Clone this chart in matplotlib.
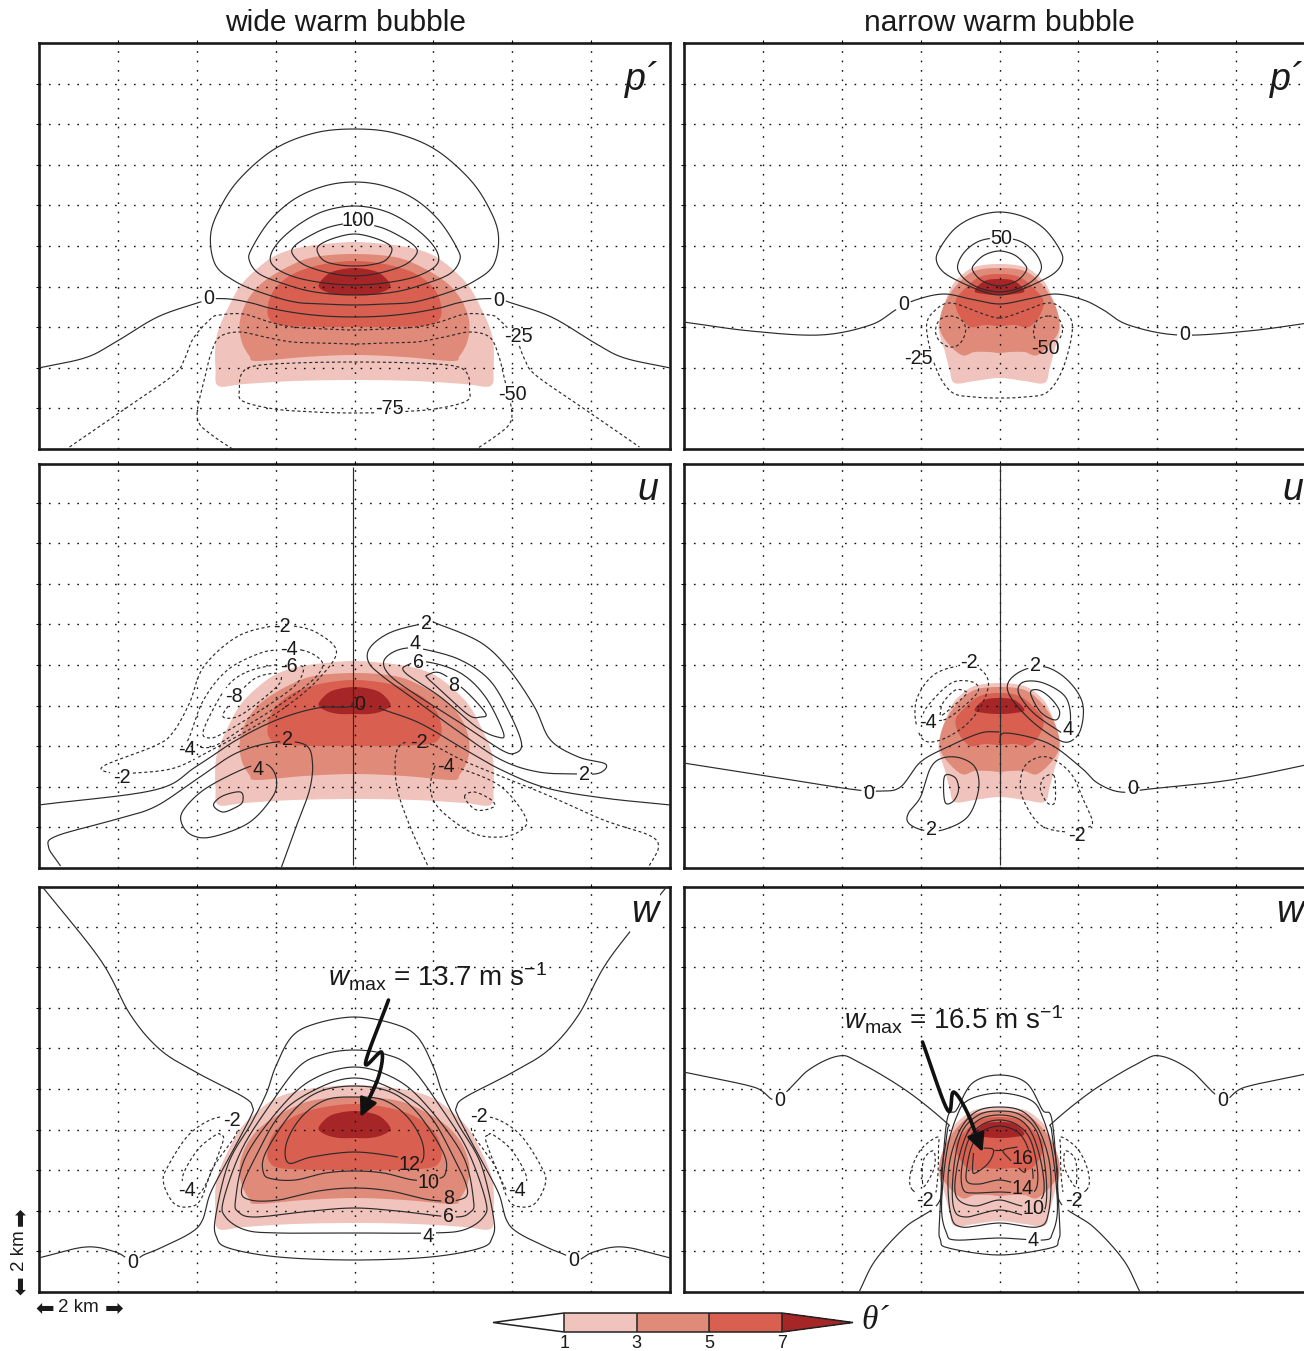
import numpy as np
import matplotlib
matplotlib.use("Agg")
import matplotlib.pyplot as plt
from matplotlib.colors import ListedColormap, BoundaryNorm
from matplotlib.cm import ScalarMappable

plt.rcParams["font.family"] = ["Liberation Sans", "DejaVu Sans"]
plt.rcParams["mathtext.fontset"] = "custom"
plt.rcParams["mathtext.rm"] = "Liberation Sans"
plt.rcParams["mathtext.it"] = "Liberation Sans:italic"
plt.rcParams["mathtext.default"] = "regular"

# Readings are (distance from bubble axis, height above ground) in picture units;
# KM_X / KM_Z convert them to kilometres.
KM_X, KM_Z = 39.44, 40.6
THETA_LEVELS = [1, 3, 5, 7]
THETA_COLORS = ["#F0C3BC", "#E08A7A", "#D95F50", "#A62628"]
COLUMN_TITLES = ["wide warm bubble", "narrow warm bubble"]
ROW_NAMES = ["p´", "u", "w"]

# theta' half outlines (top of axis round to bottom of axis)
WIDE_T1 = [(0,207),(30,205),(57,201),(80,193),(100,178),(115,162),(126,142),(135,122),(139,105),(139,80),(136,63),(110,65),(60,68),(0,69)]
WIDE_T3 = [(0,195),(40,192),(65,183),(90,168),(105,152),(113,135),(115,120),(112,105),(105,93),(98,88),(50,92),(0,94)]
WIDE_T5 = [(0,188),(30,185),(55,178),(72,168),(83,155),(87,140),(85,130),(75,124),(40,122),(0,122)]
WIDE_T7 = [(0,181),(20,178),(30,172),(36,163),(28,157),(15,154),(0,154)]
NARROW_T1 = [(0,185),(25,182),(40,172),(48,162),(57,140),(61,122),(58,108),(55,99),(50,80),(45,66),(25,68),(0,71)]
NARROW_T3 = [(0,181),(25,178),(42,165),(55,145),(60,125),(55,110),(38,94),(25,97),(10,97),(0,96)]
NARROW_T5 = [(0,175),(20,172),(35,160),(44,148),(40,133),(29,122),(15,124),(0,123)]
NARROW_T7 = [(0,170),(15,168),(25,158),(15,155),(0,154)]

# pressure, wide
PW_25 = [(0,320),(40,316),(80,300),(115,270),(135,240),(144,213),(139,184),(120,168),(95,157),(60,147),(30,145),(0,144)]
PW_50 = [(0,267),(30,263),(60,250),(85,228),(103,200),(105,188),(95,175),(70,165),(40,157),(0,154)]
PW_75 = [(0,243),(30,238),(55,225),(75,208),(84,193),(80,182),(60,172),(30,166),(0,164)]
PW_100 = [(0,226),(25,222),(45,213),(60,203),(62,195),(50,184),(25,176),(0,173)]
PW_125 = [(0,215),(20,211),(35,204),(37,197),(30,188),(15,184),(0,183)]
PW_0 = [(0,132),(30,133),(58,136),(85,141),(103,146),(125,150),(146,150),(154,147),(197,132),(242,105),(270,91),(316,81)]
PW_M25 = [(0,119),(30,120),(62,122),(85,127),(111,135),(135,134),(144,130),(161,111),(170,90),(181,74),(227,42),(285,2)]
PW_M50 = [(0,105),(30,106),(62,107),(90,112),(115,117),(135,112),(144,94),(150,70),(157,40),(155,25),(140,12),(122,0)]
PW_M75 = [(0,87),(60,86),(100,83),(113,75),(115,60),(112,48),(80,40),(40,37),(0,36)]
PW_LABELS = [("100",4,228),("0",-146,150),("0",144,149),("-25",164,112),("-50",158,55),("-75",35,40)]

# pressure, narrow
PN_25 = [(0,237),(25,232),(45,220),(60,200),(63,188),(55,176),(35,165),(15,157),(0,154)]
PN_50 = [(0,211),(20,208),(35,197),(42,182),(35,170),(20,161),(0,157)]
PN_75 = [(0,198),(15,194),(25,185),(27,179),(20,170),(10,165),(0,163)]
PN_0 = [(0,145),(29,150),(56,155),(84,149),(104,139),(129,124),(179,114),(249,118),(316,127)]
PN_M25 = [(0,131),(19,136),(48,146),(64,139),(73,122),(64,82),(48,57),(25,52),(0,51)]
PN_M50_L = [(-49,133),(-37,128),(-34,117),(-40,105),(-50,102),(-60,108),(-64,118),(-60,129)]
PN_M50_R = [(49,133),(60,129),(63,118),(58,108),(47,103),(37,108),(34,118),(38,129)]
PN_LABELS = [("50",2,211),("0",-96,145),("0",185,114),("-25",-81,91),("-50",46,101)]

# u, wide
UW_0_L = [(-316,63),(-200,78),(-159,101),(-118,128),(-78,148),(-37,160),(-6,161),(-2,166)]
UW_0_R = [(24,160),(65,145),(106,121),(147,98),(192,80),(249,70),(316,63)]
UW_AXIS = [(-2,3),(-2,401)]
UW_P2_LOW = [(-294,2),(-306,21),(-298,32),(-241,48),(-200,61),(-159,88),(-118,115),(-78,126),(-49,123),(-42,105),(-45,78),(-57,45),(-73,1)]
UW_P4_LOW = [(-84,101),(-78,88),(-82,71),(-106,45),(-143,31),(-163,33),(-173,45),(-171,58),(-151,78),(-118,96),(-95,104)]
UW_P6_LOW = [(-141,63),(-132,72),(-114,76),(-112,66),(-120,60),(-132,56)]
UW_M2_LOW = [(73,3),(57,38),(43,78),(41,111),(49,125),(73,125),(114,105),(188,75),(249,48),(294,33),(304,21),(294,1)]
UW_M4_LOW = [(80,101),(76,78),(86,58),(118,35),(147,31),(167,38),(171,51),(147,81),(110,98),(86,103)]
UW_M6_LOW = [(110,71),(120,76),(137,68),(139,61),(122,58)]
UW_P2_UP = [(86,243),(127,225),(155,198),(180,161),(196,128),(224,111),(251,104),(245,95),(224,94),(184,96),(147,108),(106,135),(65,165),(29,191),(14,206),(16,221),(37,236),(73,245)]
UW_P4_UP = [(73,218),(106,208),(135,188),(155,155),(167,125),(161,115),(147,118),(106,145),(65,171),(37,191),(29,205),(37,215),(53,220)]
UW_P6_UP = [(73,206),(106,195),(131,171),(149,135),(143,131),(122,141),(86,171),(51,195),(53,203)]
UW_P8_UP = [(73,193),(86,195),(110,178),(131,155),(126,151),(114,153),(86,178),(73,190)]
UW_M2_UP = [(-82,242),(-118,231),(-151,201),(-165,165),(-182,135),(-200,122),(-251,102),(-243,95),(-220,95),(-180,100),(-143,118),(-106,138),(-69,161),(-37,188),(-18,216),(-37,235),(-61,242)]
UW_M4_UP = [(-53,218),(-37,211),(-32,201),(-45,185),(-78,161),(-110,141),(-143,121),(-167,125),(-165,131),(-151,168),(-127,198),(-94,215),(-73,218)]
UW_M6_UP = [(-110,195),(-130,178),(-151,138),(-145,130),(-131,135),(-98,155),(-61,181),(-51,198),(-57,203),(-80,203)]
UW_M8_UP = [(-76,195),(-102,188),(-131,155),(-122,150),(-106,158),(-78,181),(-73,191)]
UW_LABELS = [("-2",-73,241),("-4",-66,218),("-6",-66,201),("-8",-121,171),("-4",-168,118),("-2",-233,90),
             ("2",-67,128),("4",-96,98),("0",5,163),("2",72,244),("4",61,224),("6",64,205),("8",99,182),
             ("-2",64,125),("-4",92,101),("2",230,93)]

# u, narrow
UN_0_L = [(-316,105),(-239,93),(-150,79),(-119,77),(-99,81),(-79,106),(-52,121),(-19,135),(0,136)]
UN_0_R = [(0,125),(6,135),(48,125),(81,101),(98,85),(121,76),(150,79),(231,88),(316,105)]
UN_AXIS = [(0,3),(0,404)]
UN_P2_UP = [(46,201),(68,188),(83,165),(81,138),(69,126),(54,131),(31,148),(11,171),(9,186),(24,198)]
UN_P4_UP = [(71,148),(66,171),(44,185),(24,186),(19,175),(34,155),(58,138),(64,136)]
UN_P6_UP = [(31,175),(39,178),(51,170),(60,157),(56,148),(41,156)]
UN_M2_UP = [(-21,200),(-11,185),(-19,161),(-36,141),(-59,128),(-76,128),(-84,148),(-82,171),(-66,193),(-41,202)]
UN_M4_UP = [(-56,148),(-32,165),(-21,178),(-27,186),(-46,186),(-64,171),(-76,153)]
UN_M6_UP = [(-57,153),(-36,171),(-33,176),(-44,178),(-56,166),(-59,156)]
UN_P2_LOW = [(-57,38),(-32,51),(-21,78),(-24,100),(-39,110),(-57,110),(-69,100),(-79,71),(-91,55),(-91,45),(-77,38)]
UN_P4_LOW = [(-54,93),(-44,90),(-41,78),(-46,67),(-54,65),(-56,81)]
UN_M2_LOW = [(68,36),(41,43),(24,68),(21,88),(28,105),(48,111),(71,95),(84,68),(93,46),(86,40)]
UN_M4_LOW = [(54,93),(56,80),(55,65),(48,65),(41,78),(44,90)]
UN_LABELS = [("-2",-31,205),("2",36,202),("-4",-72,145),("4",69,138),("0",-131,74),("0",133,79),("2",-68,38),("-2",77,32)]

# w, wide
WW_0 = [(316,34),(269,45),(239,40),(222,31),(211,37),(194,44),(164,59),(152,72),(144,99),(125,135),(104,175),(102,185),(111,195),(157,219),(194,242),(224,277),(254,332),(312,405)]
WW_2 = [(0,275),(40,268),(63,255),(79,225),(88,199),(103,169),(126,129),(139,75),(138,55),(126,44),(76,35),(0,32)]
WW_4 = [(0,242),(30,238),(56,225),(86,185),(113,142),(131,92),(129,75),(109,62),(76,59),(0,59)]
WW_6 = [(0,225),(43,212),(76,182),(109,135),(119,92),(116,80),(99,75),(43,81),(0,84)]
WW_8 = [(0,214),(36,204),(73,179),(99,135),(113,102),(104,92),(76,92),(36,101),(0,104)]
WW_10 = [(0,206),(36,200),(63,179),(89,139),(91,119),(82,113),(59,112),(29,119),(0,121)]
WW_12 = [(0,195),(29,192),(53,175),(68,149),(66,129),(43,135),(0,140)]
WW_M2_L = [(-134,175),(-164,159),(-187,125),(-191,109),(-181,89),(-167,85),(-154,92),(-141,125),(-117,162)]
WW_M4_L = [(-134,157),(-139,157),(-157,142),(-172,115),(-165,100),(-152,102),(-132,149)]
WW_LABELS = [("-2",-123,172),("-2",124,176),("-4",-168,102),("-4",163,102),("12",55,127),("10",74,110),
             ("8",94,94),("6",94,75),("4",74,55),("0",-222,30),("0",219,31)]
WW_ARROW = [(34,292),(11,229),(27,240),(24,215),(6,175)]

# w, narrow
WN_0 = [(316,220),(246,205),(223,193),(191,222),(161,236),(141,230),(94,202),(54,170),(52,162),(58,122),(61,89),(94,65),(124,32),(140,1)]
WN_2 = [(0,217),(27,209),(43,182),(53,169),(60,72),(59,52),(51,44),(0,37)]
WN_4 = [(0,199),(31,192),(43,175),(53,139),(58,85),(53,59),(44,52),(0,54)]
WN_6 = [(0,185),(24,180),(41,159),(51,122),(49,79),(38,65),(0,69)]
WN_8 = [(0,181),(21,177),(38,159),(46,122),(46,85),(34,75),(0,82)]
WN_10 = [(0,177),(21,172),(34,155),(43,122),(43,95),(25,86),(0,92)]
WN_12 = [(0,172),(18,167),(31,152),(38,122),(36,102),(24,99),(0,100)]
WN_14 = [(0,166),(18,160),(28,145),(33,122),(32,110),(20,108),(0,112)]
WN_16 = [(-26,139),(-27,122),(-24,119),(-11,129),(-6,142),(-16,144)]
WN_16B = [(-6,142),(4,142)]
WN_16C = [(18,145),(4,142),(8,135),(24,120),(26,125)]
WN_M2_L = [(-87,102),(-89,119),(-79,142),(-62,155),(-61,145),(-62,112),(-67,95)]
WN_M4_L = [(-77,109),(-76,132),(-66,141),(-65,125),(-74,107)]
WN_LABELS = [("-2",-75,91),("-2",74,91),("16",23,133),("14",23,104),("10",34,84),("4",34,52),("0",-220,191),("0",223,192)]
WN_ARROW = [(-77,250),(-52,182),(-46,200),(-32,179),(-17,140)]

WMAX_TEXT = ["$\\mathit{w}_{max}$ = 13.7 m s$^{−1}$", "$\\mathit{w}_{max}$ = 16.5 m s$^{−1}$"]
WMAX_POS = [(-27, 315), (-156, 272)]


def spline(points, closed=False, n=14):
    p = np.asarray(points, float)
    if len(p) < 3:
        return p
    if closed:
        q = np.vstack([p[-1], p, p[0], p[1]])
    else:
        q = np.vstack([2 * p[0] - p[1], p, 2 * p[-1] - p[-2]])
    t = np.linspace(0, 1, n, endpoint=False)[:, None]
    out = []
    for i in range(1, len(q) - 2):
        a, b, c, d = q[i - 1], q[i], q[i + 1], q[i + 2]
        out.append(0.5 * (2 * b + (c - a) * t + (2 * a - 5 * b + 4 * c - d) * t ** 2 + (3 * b - a - 3 * c + d) * t ** 3))
    out = np.vstack(out)
    return np.vstack([out, out[:1]]) if closed else np.vstack([out, q[-2]])


def loop(half):
    """Closed outline from a half outline read on the right of the axis."""
    h = np.asarray(half, float)
    return np.vstack([h, (h[-2:0:-1] * [-1, 1])])


def through(half):
    """Open curve crossing the axis, from the half read to its right."""
    h = np.asarray(half, float)
    return np.vstack([h[:0:-1] * [-1, 1], h])


def flip(curve):
    return np.asarray(curve, float) * [-1, 1]


def draw_line(ax, pts, closed, dashed, labels, cut=True):
    c = spline(pts, closed)
    d = np.hypot(*np.diff(c, axis=0).T)
    s = np.r_[0, np.cumsum(d)]
    si = np.arange(0, s[-1] + 0.5, 0.5)
    x, z = np.interp(si, s, c[:, 0]), np.interp(si, s, c[:, 1])
    if cut:
        for txt, lx, lz in labels:
            hw = 4.1 * len(txt) + 3
            mask = (np.abs(x - lx) < hw) & (np.abs(z - lz) < 9)
            x = np.where(mask, np.nan, x)
    ax.plot(x / KM_X, z / KM_Z, color="#2b2b2b", lw=0.85, zorder=4,
            ls=(0, (2.6, 2.2)) if dashed else "-", solid_capstyle="butt", dash_capstyle="butt")


def panel_lines(ax, items, labels):
    for pts, closed, dashed in items:
        draw_line(ax, pts, closed, dashed, labels)
    for txt, lx, lz in labels:
        ax.text(lx / KM_X, lz / KM_Z, txt, ha="center", va="center", fontsize=14.2, color="#1a1a1a", zorder=6)


W, H = 1304, 1351
fig = plt.figure(figsize=(W / 100, H / 100), dpi=100)
COL_LEFT = [39, 684]
ROW_BOX = [(43, 449), (464, 868), (887, 1292)]
LETTER_Y = [80, 490, 912]
PANEL_W = 631
axes = {}
for r, (top, bottom) in enumerate(ROW_BOX):
    for c, left in enumerate(COL_LEFT):
        ax = fig.add_axes([left / W, 1 - bottom / H, PANEL_W / W, (bottom - top) / H])
        ax.set_xlim(-8, 8)
        ax.set_ylim(0, (bottom - top) / KM_Z)
        ax.set_xticks(np.arange(-6, 7, 2))
        ax.set_yticks(np.arange(1, 10))
        ax.tick_params(left=True, top=True, bottom=False, labelleft=False, labelbottom=False,
                       length=2.5, width=0.8, direction="out")
        ax.grid(True, color="#111111", lw=1.0, ls=(0, (1.2, 5.6)), zorder=3)
        ax.set_axisbelow(False)
        for sp in ax.spines.values():
            sp.set_linewidth(1.9)
            sp.set_color("#1a1a1a")
        outlines = [WIDE_T1, WIDE_T3, WIDE_T5, WIDE_T7] if c == 0 else [NARROW_T1, NARROW_T3, NARROW_T5, NARROW_T7]
        for outline, colour in zip(outlines, THETA_COLORS):
            o = spline(loop(outline), True, 8)
            ax.fill(o[:, 0] / KM_X, o[:, 1] / KM_Z, color=colour, lw=0, zorder=1)
        box = dict(fc="white", ec="none", pad=1) if r == 2 else None
        ax.text(304 / KM_X, (bottom - LETTER_Y[r]) / KM_Z, ROW_NAMES[r],
                ha="right", va="center", fontsize=27, style="italic", color="#1a1a1a", zorder=6, bbox=box)
        axes[(r, c)] = ax

panel_lines(axes[(0, 0)], [(loop(PW_25), True, False), (loop(PW_50), True, False), (loop(PW_75), True, False),
                           (loop(PW_100), True, False), (loop(PW_125), True, False), (through(PW_0), False, False),
                           (through(PW_M25), False, True), (through(PW_M50), False, True), (loop(PW_M75), True, True)], PW_LABELS)
panel_lines(axes[(0, 1)], [(loop(PN_25), True, False), (loop(PN_50), True, False), (loop(PN_75), True, False),
                           (through(PN_0), False, False), (loop(PN_M25), True, True),
                           (PN_M50_L, True, True), (PN_M50_R, True, True)], PN_LABELS)
panel_lines(axes[(1, 0)], [(UW_0_L, False, False), (UW_0_R, False, False), (UW_P2_LOW, False, False),
                           (UW_P4_LOW, True, False), (UW_P6_LOW, True, False), (UW_M2_LOW, False, True),
                           (UW_M4_LOW, True, True), (UW_M6_LOW, True, True), (UW_P2_UP, True, False),
                           (UW_P4_UP, True, False), (UW_P6_UP, True, False), (UW_P8_UP, True, False),
                           (UW_M2_UP, True, True), (UW_M4_UP, True, True), (UW_M6_UP, True, True), (UW_M8_UP, True, True)], UW_LABELS)
draw_line(axes[(1, 0)], UW_AXIS, False, False, [], cut=False)
panel_lines(axes[(1, 1)], [(UN_0_L, False, False), (UN_0_R, False, False), (UN_P2_UP, True, False), (UN_P4_UP, True, False),
                           (UN_P6_UP, True, False), (UN_M2_UP, True, True), (UN_M4_UP, True, True), (UN_M6_UP, True, True),
                           (UN_P2_LOW, True, False), (UN_P4_LOW, True, False), (UN_M2_LOW, True, True), (UN_M4_LOW, True, True)], UN_LABELS)
draw_line(axes[(1, 1)], UN_AXIS, False, False, [], cut=False)
panel_lines(axes[(2, 0)], [(WW_0, False, False), (flip(WW_0), False, False)]
            + [(loop(h), True, False) for h in (WW_2, WW_4, WW_6, WW_8, WW_10, WW_12)]
            + [(WW_M2_L, True, True), (flip(WW_M2_L), True, True), (WW_M4_L, True, True), (flip(WW_M4_L), True, True)], WW_LABELS)
panel_lines(axes[(2, 1)], [(WN_0, False, False), (flip(WN_0), False, False)]
            + [(loop(h), True, False) for h in (WN_2, WN_4, WN_6, WN_8, WN_10, WN_12, WN_14)]
            + [(WN_16, False, False), (WN_16B, False, False), (WN_16C, False, False),
               (WN_M2_L, True, True), (flip(WN_M2_L), True, True), (WN_M4_L, True, True), (flip(WN_M4_L), True, True)], WN_LABELS)

for c, arrow in enumerate([WW_ARROW, WN_ARROW]):
    ax = axes[(2, c)]
    a = spline(arrow, False, 10)
    ax.plot(a[:-4, 0] / KM_X, a[:-4, 1] / KM_Z, color="#111111", lw=2.6, zorder=7, solid_capstyle="round")
    ax.annotate("", xy=(a[-1, 0] / KM_X, a[-1, 1] / KM_Z), xytext=(a[-10, 0] / KM_X, a[-10, 1] / KM_Z), zorder=7,
                arrowprops=dict(arrowstyle="-|>,head_length=0.55,head_width=0.27", color="#111111", lw=2.2,
                                shrinkA=0, shrinkB=0, mutation_scale=20))
    ax.text(WMAX_POS[c][0] / KM_X, WMAX_POS[c][1] / KM_Z, WMAX_TEXT[c], ha="left", va="center",
            fontsize=20, color="#1a1a1a", zorder=7)

for text, x in zip(COLUMN_TITLES, [346, 999]):
    fig.text(x / W, 1 - 23 / H, text, ha="center", va="center", fontsize=21.5, color="#1a1a1a")

# distance scale
fig.text(78 / W, 1 - 1308 / H, "2 km", ha="center", va="center", fontsize=13.5, color="#1a1a1a")
fig.text(20 / W, 1 - 1251 / H, "2 km", ha="center", va="center", fontsize=13.5, rotation=90, color="#1a1a1a")
for x, s in [(45, "⬅"), (114, "➡")]:
    fig.text(x / W, 1 - 1309 / H, s, ha="center", va="center", fontsize=16, family="DejaVu Sans", color="#1a1a1a")
for y, s in [(1217, "➡"), (1286, "⬅")]:
    fig.text(21 / W, 1 - y / H, s, ha="center", va="center", fontsize=16, family="DejaVu Sans", rotation=90, color="#1a1a1a")

# theta' key
cax = fig.add_axes([493 / W, 1 - 1332 / H, 360 / W, 19 / H])
cmap = ListedColormap(THETA_COLORS[:3]).with_extremes(under="white", over=THETA_COLORS[3])
norm = BoundaryNorm(THETA_LEVELS, cmap.N)
cb = fig.colorbar(ScalarMappable(norm=norm, cmap=cmap), cax=cax, orientation="horizontal",
                  extend="both", extendfrac=71 / 217, drawedges=True, ticks=THETA_LEVELS, spacing="uniform")
cb.outline.set_linewidth(1.1)
cb.outline.set_edgecolor("#222222")
cb.dividers.set_linewidth(1.1)
cb.dividers.set_color("#222222")
cb.ax.tick_params(length=0, pad=2, labelsize=13, colors="#1a1a1a")
fig.text(875 / W, 1 - 1321 / H, "θ´", ha="center", va="center", fontsize=24, family="Liberation Serif",
         style="italic", color="#1a1a1a")

fig.savefig("out.png", dpi=100)
